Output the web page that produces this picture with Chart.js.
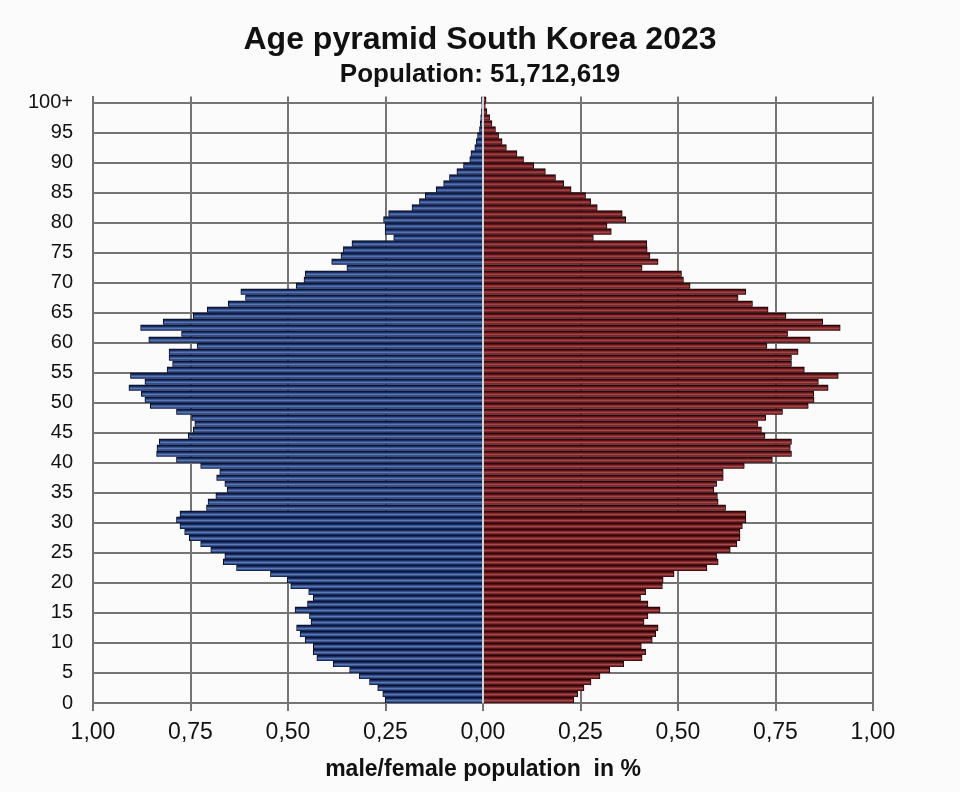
<!DOCTYPE html>
<html>
<head>
<meta charset="utf-8">
<script src="https://cdn.jsdelivr.net/npm/chart.js@4/dist/chart.umd.min.js"></script>
<style>
  html, body { margin: 0; padding: 0; overflow: hidden; background: #fbfbfb; }
  canvas { display: block; }
</style>
</head>
<body>
<canvas id="c" width="960" height="792"></canvas>
<script>
// Age 0 .. 100+ (index = age), share of total population in %
const maleShare = [
  0.251, 0.257, 0.270, 0.291, 0.317, 0.342, 0.384, 0.426, 0.435, 0.435,
  0.456, 0.469, 0.478, 0.441, 0.445, 0.482, 0.450, 0.435, 0.447, 0.493,
  0.502, 0.545, 0.632, 0.666, 0.662, 0.698, 0.724, 0.753, 0.765, 0.777,
  0.786, 0.777, 0.709, 0.705, 0.685, 0.656, 0.662, 0.683, 0.675, 0.724,
  0.786, 0.837, 0.836, 0.830, 0.756, 0.743, 0.739, 0.747, 0.786, 0.853,
  0.867, 0.876, 0.908, 0.867, 0.904, 0.810, 0.796, 0.805, 0.805, 0.733,
  0.857, 0.773, 0.878, 0.820, 0.743, 0.707, 0.653, 0.609, 0.621, 0.479,
  0.459, 0.456, 0.349, 0.388, 0.364, 0.358, 0.336, 0.229, 0.251, 0.251,
  0.255, 0.242, 0.182, 0.163, 0.148, 0.120, 0.101, 0.086, 0.067, 0.050,
  0.034, 0.031, 0.021, 0.017, 0.014, 0.009, 0.007, 0.006, 0.004, 0.003,
  0.004
];
const femaleShare = [
  0.233, 0.243, 0.259, 0.277, 0.300, 0.325, 0.361, 0.408, 0.417, 0.406,
  0.434, 0.443, 0.449, 0.413, 0.423, 0.454, 0.423, 0.404, 0.417, 0.460,
  0.462, 0.490, 0.574, 0.603, 0.599, 0.634, 0.651, 0.659, 0.659, 0.665,
  0.674, 0.674, 0.622, 0.603, 0.601, 0.592, 0.599, 0.616, 0.616, 0.670,
  0.742, 0.791, 0.788, 0.791, 0.723, 0.714, 0.705, 0.725, 0.768, 0.834,
  0.849, 0.848, 0.885, 0.860, 0.911, 0.824, 0.791, 0.791, 0.808, 0.728,
  0.839, 0.781, 0.916, 0.871, 0.777, 0.731, 0.691, 0.654, 0.674, 0.531,
  0.514, 0.509, 0.408, 0.449, 0.428, 0.421, 0.420, 0.283, 0.329, 0.318,
  0.366, 0.357, 0.293, 0.276, 0.263, 0.226, 0.207, 0.186, 0.160, 0.130,
  0.104, 0.087, 0.060, 0.049, 0.040, 0.032, 0.023, 0.017, 0.010, 0.006,
  0.008
];
const ageTickValues = [0, 5, 10, 15, 20, 25, 30, 35, 40, 45, 50, 55, 60, 65, 70, 75, 80, 85, 90, 95, 100];
const ageTickLabels = ['0', '5', '10', '15', '20', '25', '30', '35', '40', '45', '50', '55', '60', '65', '70', '75', '80', '85', '90', '95', '100+'];

const FONT = "'Liberation Sans', Arial, Helvetica, sans-serif";
const GRID = '#747474';

const maleData = maleShare.map((v, age) => ({ x: -v, y: age + 0.5 }));
const femaleData = femaleShare.map((v, age) => ({ x: v, y: age + 0.5 }));

function stripe(ctx, stops, fallback) {
  const chart = ctx.chart;
  const ys = chart.scales && chart.scales.y;
  if (!ys || !ctx.raw || !chart.chartArea) return fallback;
  const yc = ys.getPixelForValue(ctx.raw.y);
  if (!isFinite(yc)) return fallback;
  const g = chart.ctx.createLinearGradient(0, yc - 3, 0, yc + 3);
  stops.forEach(s => g.addColorStop(s[0], s[1]));
  return g;
}
const blueStops = [[0, '#0b173f'], [0.3, '#1a2f66'], [0.6, '#5d7cb6'], [0.85, '#233f7c'], [1, '#0b173f']];
const redStops = [[0, '#33060a'], [0.3, '#5e1216'], [0.6, '#a64a4c'], [0.85, '#6e1a1e'], [1, '#33060a']];

const centerLine = {
  id: 'centerLine',
  afterDatasetsDraw(chart) {
    const x = chart.scales.x.getPixelForValue(0);
    const { top, bottom } = chart.chartArea;
    const c = chart.ctx;
    c.save();
    c.strokeStyle = '#d2d2d8';
    c.lineWidth = 2;
    c.beginPath();
    c.moveTo(x, top);
    c.lineTo(x, bottom);
    c.stroke();
    c.restore();
  }
};

new Chart(document.getElementById('c'), {
  type: 'bar',
  data: {
    datasets: [
      {
        label: 'male',
        data: maleData,
        backgroundColor: ctx => stripe(ctx, blueStops, '#2a4580'),
        borderColor: '#050a22',
        borderWidth: { top: 1, bottom: 0, left: 1, right: 1 },
        grouped: false
      },
      {
        label: 'female',
        data: femaleData,
        backgroundColor: ctx => stripe(ctx, redStops, '#7a1d21'),
        borderColor: '#1c0204',
        borderWidth: { top: 1, bottom: 0, left: 1, right: 1 },
        grouped: false
      }
    ]
  },
  options: {
    indexAxis: 'y',
    responsive: false,
    animation: false,
    events: [],
    datasets: { bar: { barPercentage: 1, categoryPercentage: 1 } },
    layout: { padding: 0 },
    plugins: {
      legend: { display: false },
      tooltip: { enabled: false },
      title: {
        display: true,
        text: 'Age pyramid South Korea 2023',
        color: '#111',
        font: { family: FONT, size: 32, weight: 'bold', lineHeight: 1.2 },
        padding: { top: 21, bottom: 0 }
      },
      subtitle: {
        display: true,
        text: 'Population: 51,712,619',
        color: '#111',
        font: { family: FONT, size: 26, weight: 'bold', lineHeight: 1.2 },
        padding: { top: 0, bottom: 6 }
      }
    },
    scales: {
      x: {
        type: 'linear',
        min: -1,
        max: 1,
        afterFit: s => { s.height = 89; },
        ticks: {
          stepSize: 0.25,
          color: '#111',
          padding: 8,
          font: { family: FONT, size: 23, lineHeight: 1.2 },
          callback: v => Math.abs(v).toFixed(2).replace('.', ',')
        },
        grid: { color: GRID, lineWidth: 2, drawTicks: true, tickLength: 8, tickColor: GRID },
        border: { display: true, color: GRID, width: 2 },
        title: {
          display: true,
          text: 'male/female population  in %',
          color: '#111',
          font: { family: FONT, size: 23, weight: 'bold', lineHeight: 1.2 },
          padding: { top: 0, bottom: 9 }
        }
      },
      y: {
        type: 'linear',
        position: 'left',
        min: 0,
        max: 101,
        offset: false,
        afterFit: s => { s.width = 93; },
        afterBuildTicks: s => { s.ticks = ageTickValues.map(v => ({ value: v })); },
        ticks: {
          color: '#111',
          padding: 20,
          font: { family: FONT, size: 20 },
          callback: v => ageTickLabels[ageTickValues.indexOf(v)]
        },
        grid: { color: GRID, lineWidth: 2, drawTicks: false, offset: false },
        border: { display: true, color: GRID, width: 2 }
      },
      yRight: {
        type: 'linear',
        position: 'right',
        display: true,
        afterFit: s => { s.width = 87; },
        ticks: { display: false },
        grid: { display: false, drawTicks: false },
        border: { display: false }
      }
    }
  },
  plugins: [centerLine]
});
</script>
</body>
</html>
